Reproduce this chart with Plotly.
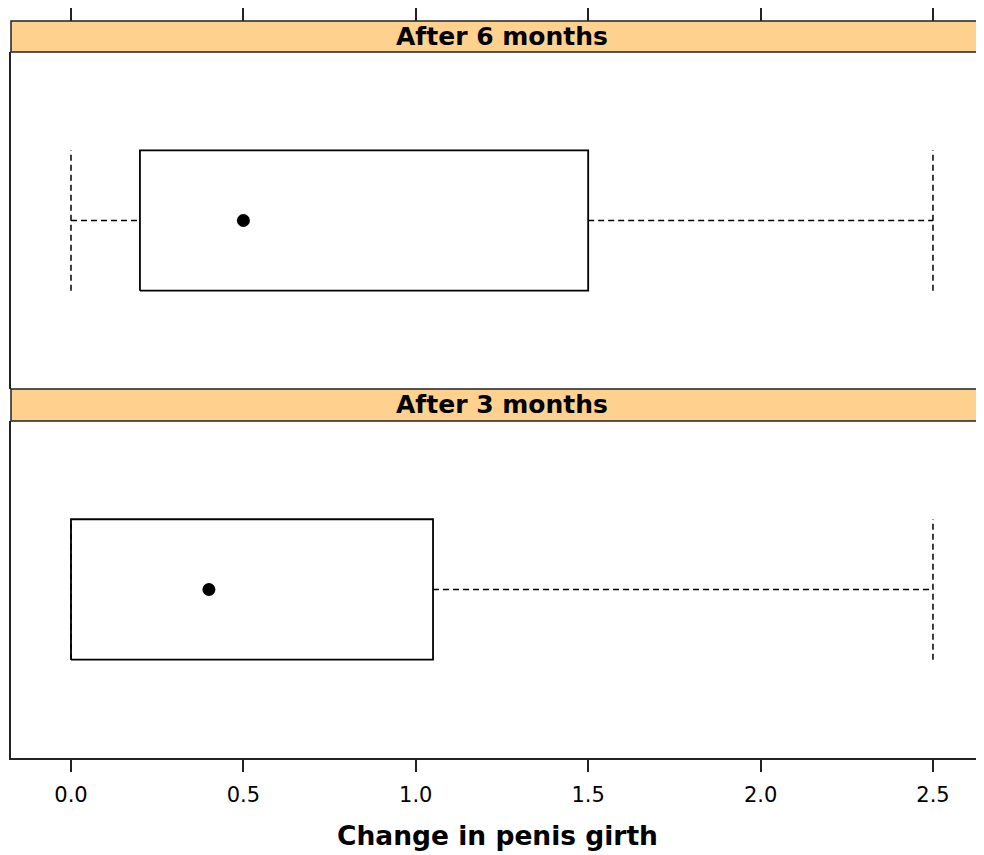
import plotly.graph_objects as go

# ---- data ----
panels = ["After 3 months", "After 6 months"]
lower_whisker = [0.0, 0.0]
q1 = [0.0, 0.2]
median = [0.4, 0.5]
q3 = [1.05, 1.5]
upper_whisker = [2.5, 2.5]
tick_vals = [0.0, 0.5, 1.0, 1.5, 2.0, 2.5]
tick_labels = ["0.0", "0.5", "1.0", "1.5", "2.0", "2.5"]
x_title = "Change in penis girth"

# ---- styles ----
# page body has an 8px default margin, so the figure is sized to fill the rest
W, H = 976, 847
X_RANGE = [-0.174, 2.648]
Y_RANGE = [0.4, 1.6]
BOX_HALF = 0.25
LINE_COL = "#222222"
STRIP_COL = "#FFD18F"
DASH = "6px,4px"
FONT = "DejaVu Sans"

# paper y domains (lower panel, strip2, upper panel, strip1)
dom_low = [0.0, 0.4573]
strip2 = [0.4573, 0.50068]
dom_up = [0.50068, 0.95794]
strip1 = [0.95794, 1.0]

fig = go.Figure()

axes = [("x", "y"), ("x2", "y2")]
for i, name in enumerate(panels):
    xa, ya = axes[i]
    yc = 1.0
    # whiskers (dashed)
    fig.add_trace(go.Scatter(
        x=[lower_whisker[i], q1[i], None, q3[i], upper_whisker[i]],
        y=[yc, yc, None, yc, yc],
        mode="lines", line=dict(color="black", width=1.5, dash=DASH),
        xaxis=xa, yaxis=ya, showlegend=False, hoverinfo="skip"))
    # caps (dashed vertical)
    fig.add_trace(go.Scatter(
        x=[lower_whisker[i], lower_whisker[i], None, upper_whisker[i], upper_whisker[i]],
        y=[yc - BOX_HALF, yc + BOX_HALF, None, yc - BOX_HALF, yc + BOX_HALF],
        mode="lines", line=dict(color="black", width=1.5, dash=DASH),
        xaxis=xa, yaxis=ya, showlegend=False, hoverinfo="skip"))
    # box
    fig.add_trace(go.Scatter(
        x=[q1[i], q3[i], q3[i], q1[i], q1[i]],
        y=[yc - BOX_HALF, yc - BOX_HALF, yc + BOX_HALF, yc + BOX_HALF, yc - BOX_HALF],
        mode="lines", line=dict(color="black", width=1.8),
        xaxis=xa, yaxis=ya, showlegend=False, hoverinfo="skip"))
    # median dot
    fig.add_trace(go.Scatter(
        x=[median[i]], y=[yc], mode="markers",
        marker=dict(color="black", size=13, line=dict(width=0)),
        xaxis=xa, yaxis=ya, showlegend=False, name=name))

# strips
for dom in (strip1, strip2):
    fig.add_shape(type="rect", xref="paper", yref="paper",
                  x0=0, x1=1.05, y0=dom[0], y1=dom[1],
                  fillcolor=STRIP_COL, line=dict(color=LINE_COL, width=1.5),
                  layer="above")

strip_doms = [strip2, strip1]
for i, name in enumerate(panels):
    d = strip_doms[i]
    fig.add_annotation(text=f"<b>{name}</b>", xref="x", yref="paper",
                       x=1.25, y=(d[0] + d[1]) / 2, showarrow=False,
                       font=dict(family=FONT, size=25, color="black"),
                       xanchor="center", yanchor="middle")

common_y = dict(range=Y_RANGE, showline=True, linecolor=LINE_COL, linewidth=1.5,
                showticklabels=False, ticks="", showgrid=False, zeroline=False,
                fixedrange=True)

fig.update_layout(
    width=W, height=H,
    margin=dict(l=3, r=0, t=13, b=97),
    paper_bgcolor="white", plot_bgcolor="white",
    showlegend=False,
    xaxis=dict(domain=[0, 1], anchor="y", range=X_RANGE,
               tickvals=tick_vals, ticktext=tick_labels,
               ticks="outside", ticklen=12, tickwidth=1.5, tickcolor=LINE_COL,
               showline=True, linecolor=LINE_COL, linewidth=1.5,
               showgrid=False, zeroline=False,
               tickfont=dict(family=FONT, size=21, color="black"),
               ticklabelstandoff=5,
               title=dict(text=f"<b>{x_title}</b>", standoff=20,
                          font=dict(family=FONT, size=26.5, color="black"))),
    yaxis=dict(domain=dom_low, anchor="x", **common_y),
    xaxis2=dict(domain=[0, 1], anchor="free", position=1.0, side="top",
                range=X_RANGE, matches="x",
                tickvals=tick_vals, ticktext=tick_labels,
                ticks="outside", ticklen=13, tickwidth=1.5, tickcolor=LINE_COL,
                showticklabels=False, showline=False,
                showgrid=False, zeroline=False),
    yaxis2=dict(domain=dom_up, anchor="x2", **common_y),
)

fig.write_html("out.html")
